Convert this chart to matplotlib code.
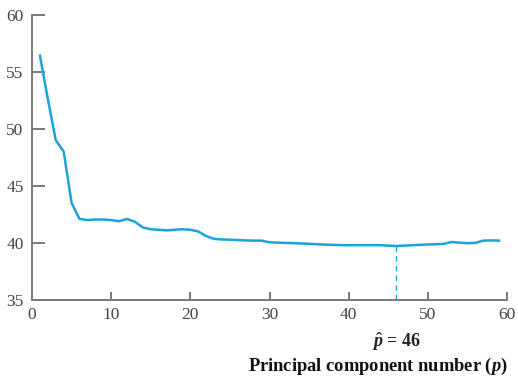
import matplotlib
matplotlib.use("Agg")
import matplotlib.pyplot as plt

# Cross-validated error versus number of principal components
components = list(range(1, 60))
error = [
    56.4, 52.6, 49.0, 48.0, 43.5, 42.1, 42.0, 42.05, 42.05, 42.0,
    41.9, 42.1, 41.85, 41.35, 41.2, 41.15, 41.1, 41.15, 41.2, 41.15,
    41.0, 40.6, 40.35, 40.3, 40.28, 40.25, 40.22, 40.2, 40.2, 40.05,
    40.03, 40.0, 39.98, 39.95, 39.92, 39.88, 39.85, 39.83, 39.81, 39.8,
    39.8, 39.8, 39.8, 39.8, 39.76, 39.73, 39.76, 39.8, 39.83, 39.86,
    39.88, 39.92, 40.08, 40.02, 39.98, 40.0, 40.2, 40.22, 40.2,
]
best_p = 46
x_ticks = [0, 10, 20, 30, 40, 50, 60]
y_ticks = [35, 40, 45, 50, 55, 60]

plt.rcParams["font.family"] = ["Liberation Serif", "DejaVu Serif"]
plt.rcParams["mathtext.fontset"] = "custom"
plt.rcParams["mathtext.rm"] = "Liberation Serif"
plt.rcParams["mathtext.it"] = "Liberation Serif:italic"
plt.rcParams["mathtext.bf"] = "Liberation Serif:bold"
plt.rcParams["mathtext.bfit"] = "Liberation Serif:bold:italic"

line_color = "#1ba3dc"
axis_color = "#7a7a7a"

fig = plt.figure(figsize=(5.18, 3.76), dpi=100)
ax = fig.add_axes([0.0618, 0.2021, 0.917, 0.7593])

ax.plot(components, error, color=line_color, lw=1.8, solid_joinstyle="round")
best_err = error[components.index(best_p)]
ax.plot([best_p, best_p], [35, best_err], color=line_color, lw=1.0,
        ls=(0, (4, 3)))

ax.set_xlim(0, 60)
ax.set_ylim(35, 60)
ax.set_xticks(x_ticks)
ax.set_yticks(y_ticks)

for side in ("top", "right"):
    ax.spines[side].set_visible(False)
for side in ("left", "bottom"):
    ax.spines[side].set_color(axis_color)
    ax.spines[side].set_linewidth(1.4)

ax.tick_params(axis="y", direction="in", length=9, width=1.4, color=axis_color,
               labelsize=12.5, labelcolor="#444444", pad=6)
ax.tick_params(axis="x", direction="in", length=6, width=1.4, color=axis_color,
               labelsize=12.5, labelcolor="#444444", pad=5)

ax.text(best_p, -0.145, r"$\hat{\mathbfit{p}}$" + " = 46", transform=ax.get_xaxis_transform(),
        ha="center", va="center", fontsize=13, fontweight="bold", color="#222222")
fig.text(0.981, 1 - 371.0 / 376, r"Principal component number ($\mathbfit{p}$)",
         ha="right", va="baseline", fontsize=13.3,
         fontweight="bold", color="#111111")

fig.savefig("out.png", dpi=100)
